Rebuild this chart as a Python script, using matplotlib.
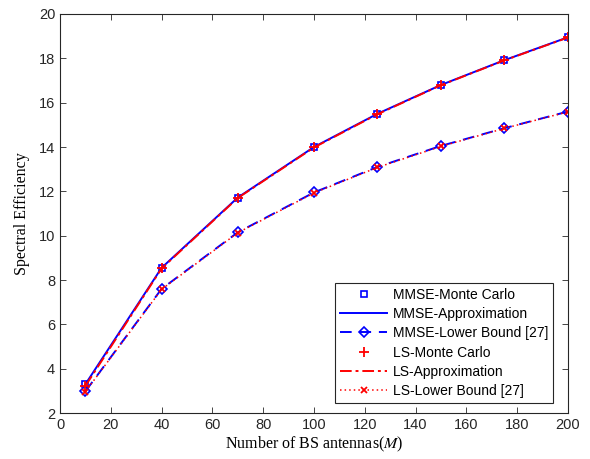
import matplotlib
matplotlib.use("Agg")
import matplotlib.pyplot as plt

plt.rcParams['mathtext.fontset'] = 'stix'

M = [10, 40, 70, 100, 125, 150, 175, 200]
mmse_mc = [3.3, 8.55, 11.72, 14.0, 15.5, 16.8, 17.92, 18.95]
mmse_approx = [3.3, 8.55, 11.72, 14.0, 15.5, 16.8, 17.92, 18.95]
mmse_lb = [2.98, 7.6, 10.15, 11.95, 13.1, 14.05, 14.85, 15.6]
ls_mc = [3.22, 8.52, 11.7, 13.98, 15.48, 16.79, 17.91, 18.94]
ls_approx = [3.22, 8.52, 11.7, 13.98, 15.48, 16.79, 17.91, 18.94]
ls_lb = [2.96, 7.58, 10.13, 11.93, 13.08, 14.03, 14.84, 15.59]

xticks = list(range(0, 201, 20))
yticks = list(range(2, 21, 2))

fig = plt.figure(figsize=(5.9, 4.59), dpi=100)
ax = fig.add_axes([0.1017, 0.1002, 0.861, 0.8693])

blue = (0, 0, 1)
red = (1, 0, 0)
ax.plot(M, mmse_mc, linestyle='none', marker='s', mfc='none', mec=blue, ms=5, mew=1.2, label='MMSE-Monte Carlo')
ax.plot(M, mmse_approx, color=blue, lw=1.4, label='MMSE-Approximation')
ax.plot(M, mmse_lb, color=blue, lw=1.4, ls=(0, (6, 4)), marker='D', mfc='none', mec=blue, ms=5.5, mew=1.2, label='MMSE-Lower Bound [27]')
ax.plot(M, ls_mc, linestyle='none', marker='+', color=red, ms=7, mew=1.3, label='LS-Monte Carlo')
ax.plot(M, ls_approx, color=red, lw=1.4, ls=(0, (6, 2, 1.5, 2)), label='LS-Approximation')
ax.plot(M, ls_lb, color=red, lw=1.1, ls=(0, (1, 2)), marker='x', ms=5, mew=1.3, label='LS-Lower Bound [27]')

ax.set_xlim(0, 200)
ax.set_ylim(2, 20)
ax.set_xticks(xticks)
ax.set_yticks(yticks)
ax.tick_params(direction='in', top=True, right=True, length=4, width=0.6, labelsize=10.5, colors='#262626')
for lab in ax.get_xticklabels() + ax.get_yticklabels():
    lab.set_fontfamily('Liberation Sans')
for s in ax.spines.values():
    s.set_linewidth(0.8)
    s.set_color('#262626')

ax.set_xlabel(r'Number of BS antennas($M$)', fontfamily='Liberation Serif', fontsize=11.5, labelpad=2)
ax.set_ylabel('Spectral Efficiency', fontfamily='Liberation Serif', fontsize=11.5, labelpad=6)

leg = ax.legend(loc='lower right', bbox_to_anchor=(553 / 590, (459 - 403) / 459), bbox_transform=fig.transFigure,
                prop={'family': 'Liberation Sans', 'size': 10}, fancybox=False,
                edgecolor='#262626', framealpha=1, handlelength=3.4, borderpad=0.35, labelspacing=0.38,
                handletextpad=0.4, borderaxespad=0.0)
leg.get_frame().set_linewidth(0.8)

fig.savefig('out.png', dpi=100)
